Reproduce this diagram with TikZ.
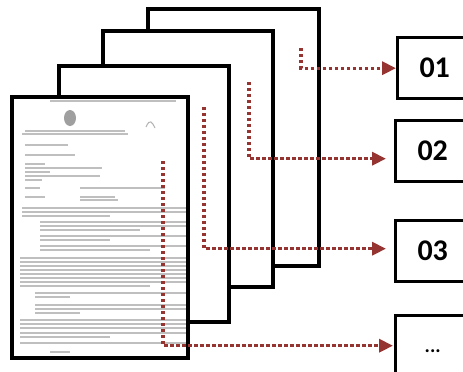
\documentclass[tikz,border=0pt]{standalone}
\usepackage{fontspec}
\setmainfont{Carlito}
\usetikzlibrary{arrows.meta}
\definecolor{dotred}{RGB}{150,52,50}

\begin{document}
\begin{tikzpicture}[x=1pt,y=-1pt,
	page/.style={draw=black,line width=3.4pt,fill=white},
	numbox/.style={draw=black,line width=3.4pt,anchor=north west,minimum width=74pt,minimum height=61pt,inner sep=0pt,font=\fontsize{30}{32}\selectfont\bfseries},
	link/.style={dotred,line width=3.4pt,dash pattern=on 3.4pt off 2.6pt,-{Triangle[length=14pt,width=13pt]}},
	txt/.style={gray!50,line width=1.1pt}]
			\clip (0,0) rectangle (463,372);
			\fill[white] (0,0) rectangle (463,372);
			
			% stack of pages, back to front
			\draw[page] (148,9) rectangle (319,266);
			\draw[page] (103,31) rectangle (273,287);
			\draw[page] (59,66) rectangle (229,322);
			\draw[page] (12,97) rectangle (188,358);
			
			% scanned letter on the front page
			\fill[gray!75] (70,118) ellipse (6 and 8);
			\draw[gray!60,line width=1pt] (146,127) .. controls (150,118) and (152,122) .. (155,128);
			\foreach \y/\a/\b in {101/50/176, 131/25/125, 134/22/128, 145/25/68, 155/25/75,
				164/25/45, 168/25/102, 172/25/50, 176/25/100, 180/25/42,
				188/25/40, 188/80/165, 197/25/45, 197/80/115, 200/80/118,
				208/22/186, 212/22/186, 216/22/110, 222/40/186, 226/40/186, 230/40/140,
				236/40/186, 240/40/110, 246/40/186, 250/40/150,
				258/20/186, 262/20/186, 266/20/186, 270/20/186, 274/20/186, 278/20/186, 282/20/186, 286/20/150,
				293/35/186, 297/35/70, 305/35/186, 309/35/186, 313/35/80,
				320/20/186, 324/20/186, 328/20/186, 333/20/186, 337/20/110, 343/20/186, 352/50/70}
				\draw[txt] (\a,\y) -- (\b,\y);
			
			\node[numbox] (b01) at (396,36) {01};
			\node[numbox] (b02) at (394,119) {02};
			\node[numbox] (b03) at (394,219) {03};
			\node[numbox,minimum height=70pt,font=\fontsize{20}{22}\selectfont\bfseries] (b04) at (394,314) {...};
			
			\coordinate (s1) at (301,48);
			\coordinate (s2) at (249,82);
			\coordinate (s3) at (204,107);
			\coordinate (s4) at (163,161);
			
			\draw[link] (s1) |- (b01.west);
			\draw[link,shorten >=8pt] (s2) |- ([yshift=-7.5pt]b02.west);
			\draw[link,shorten >=8pt] (s3) |- ([yshift=2.5pt]b03.west);
			\draw[link,shorten >=1pt] (s4) |- ([yshift=5pt]b04.west);
		\end{tikzpicture}
\end{document}
